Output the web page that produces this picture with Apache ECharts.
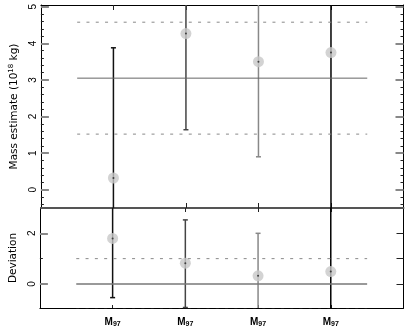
<!DOCTYPE html>
<html><head><meta charset="utf-8">
<script src="https://cdn.jsdelivr.net/npm/echarts@6/dist/echarts.min.js"></script>
<style>html,body{margin:0;padding:0;background:#fff}#c{width:407px;height:330px}</style>
</head><body><div id="c"></div>
<script>
// ---- data ----
const categories = ['M_97', 'M_97', 'M_97', 'M_97'];
const catPos = [1, 2, 3, 4];
const massValues = [0.32, 4.27, 3.50, 3.75];
const massLow = [-3.2, 1.64, 0.90, -1.5];
const massHigh = [3.88, 6.9, 6.1, 9.0];
const devValues = [1.80, 0.82, 0.32, 0.49];
const devLow = [-0.54, -0.93, -1.36, -3.0];
const devHigh = [4.1, 2.53, 2.00, 4.0];
const massMean = 3.05, massSigma = 1.53;
const devMean = 0, devSigma = 1;
const refLineSpan = [0.5, 4.5];
const massTickLabels = [0, 1, 2, 3, 4, 5];
const devTickLabels = [0, 2];
const devMinorTicks = [1];
const barColors = ['#111', '#444', '#888', '#000'];

// ---- layout / styling ----
const FONT = 'Liberation Sans, Arial, Helvetica, sans-serif';
const NAMEFONT = 'DejaVu Sans, Liberation Sans, sans-serif';
const UY = [-0.5, 5.05], LY = [-0.95, 3.0];
const massMinor = [];
for (let v = -0.4; v < 5.04; v += 0.2) {
  const r = Math.round(v * 10) / 10;
  if (Math.abs(r - Math.round(r)) > 1e-6) massMinor.push(r);
}
const G0 = {left: 37, right: 3.5, top: 5, height: 203};
const G1 = {left: 37, right: 3.5, top: 208, height: 100};

function yAxisCfg(grid, pos, ext, ticks, len, col, w, opts) {
  return Object.assign({
    type: 'value', gridIndex: grid, position: pos, min: ext[0], max: ext[1],
    axisLine: {show: false, onZero: false},
    axisTick: {show: true, inside: true, length: len, customValues: ticks, lineStyle: {color: col, width: w}},
    axisLabel: {show: false},
    splitLine: {show: false}
  }, opts || {});
}
function xAxisCfg(grid, pos, line, lineCol, lineW, tickLen, opts) {
  return Object.assign({
    type: 'value', gridIndex: grid, position: pos, min: 0, max: 5,
    axisLine: {show: line, onZero: false, lineStyle: {color: lineCol, width: lineW}},
    axisTick: {show: true, inside: true, length: tickLen, customValues: catPos, lineStyle: {color: '#222', width: 1}},
    axisLabel: {show: false},
    splitLine: {show: false}
  }, opts || {});
}

const xAxes = [
  xAxisCfg(0, 'bottom', true, '#555', 2, 5),
  xAxisCfg(0, 'top', true, '#000', 1, 5),
  xAxisCfg(1, 'bottom', true, '#000', 1, 3, {
    axisLabel: {
      show: true, customValues: catPos, margin: 8, color: '#000', fontFamily: FONT, fontSize: 10, fontWeight: 'bold',
      formatter: function (v) {
        const i = catPos.indexOf(v);
        if (i < 0) return '';
        const p = categories[i].split('_');
        return p[0] + '{sub|' + p[1] + '}';
      },
      rich: {sub: {fontSize: 7, fontWeight: 'bold', fontFamily: FONT, padding: [5, 0, 0, 0]}}
    }
  }),
  xAxisCfg(1, 'top', false, '#555', 1, 4)
];

const labelStyle = {show: true, rotate: 90, margin: 3, color: '#000', fontFamily: FONT, fontSize: 10};
const axLine = {show: true, onZero: false, lineStyle: {color: '#000', width: 1}};
const yAxes = [
  yAxisCfg(0, 'left', UY, massTickLabels, 8, '#888', 2, {
    axisLine: axLine,
    axisLabel: Object.assign({customValues: massTickLabels}, labelStyle),
    name: 'Mass estimate (10{sup|18} kg)', nameLocation: 'middle', nameGap: 18, nameRotate: 90,
    nameTextStyle: {fontFamily: NAMEFONT, fontSize: 10.5, color: '#000',
      rich: {sup: {fontSize: 7, fontFamily: NAMEFONT, color: '#000', padding: [0, 0, 6, 0]}}}
  }),
  yAxisCfg(0, 'left', UY, massMinor, 3, '#222', 1),
  yAxisCfg(0, 'right', UY, massTickLabels, 8, '#888', 2, {axisLine: axLine}),
  yAxisCfg(0, 'right', UY, massMinor, 3, '#222', 1),
  yAxisCfg(1, 'left', LY, devTickLabels, 8, '#888', 2, {
    axisLine: axLine,
    axisLabel: Object.assign({customValues: devTickLabels}, labelStyle),
    name: 'Deviation', nameLocation: 'middle', nameGap: 18, nameRotate: 90,
    nameTextStyle: {fontFamily: NAMEFONT, fontSize: 10.5, color: '#000'}
  }),
  yAxisCfg(1, 'left', LY, devMinorTicks, 3, '#222', 1),
  yAxisCfg(1, 'right', LY, devTickLabels.concat(devMinorTicks), 7, '#222', 1, {axisLine: axLine})
];

function errRender(ext) {
  return function (params, api) {
    const x = api.value(0), lo = api.value(1), hi = api.value(2);
    const col = barColors[params.dataIndex];
    const loC = Math.max(lo, ext[0]), hiC = Math.min(hi, ext[1]);
    const p1 = api.coord([x, loC]), p2 = api.coord([x, hiC]);
    const st = {stroke: col, lineWidth: 1.5};
    const ch = [{type: 'line', shape: {x1: p1[0], y1: p1[1], x2: p2[0], y2: p2[1]}, style: st}];
    const cw = 2.5;
    if (lo >= ext[0]) ch.push({type: 'line', shape: {x1: p1[0] - cw, y1: p1[1], x2: p1[0] + cw, y2: p1[1]}, style: st});
    if (hi <= ext[1]) ch.push({type: 'line', shape: {x1: p2[0] - cw, y1: p2[1], x2: p2[0] + cw, y2: p2[1]}, style: st});
    return {type: 'group', children: ch};
  };
}

function panelSeries(xi, yi, ext, vals, lows, highs, mean, sigma, meanCol, meanW) {
  const hl = (y, col, w, type) => ({
    type: 'line', xAxisIndex: xi, yAxisIndex: yi, silent: true, symbol: 'none',
    data: refLineSpan.map(x => [x, y]), lineStyle: {color: col, width: w, type: type}
  });
  return [
    hl(mean, meanCol, meanW, 'solid'),
    hl(mean + sigma, '#888', 1, [3, 6.3]),
    hl(mean - sigma, '#888', 1, [3, 6.3]),
    {type: 'custom', xAxisIndex: xi, yAxisIndex: yi, silent: true, renderItem: errRender(ext),
      data: catPos.map((x, i) => [x, lows[i], highs[i]])},
    {type: 'scatter', xAxisIndex: xi, yAxisIndex: yi, silent: true, symbolSize: 11,
      itemStyle: {color: '#c8c8c8'}, data: catPos.map((x, i) => [x, vals[i]])},
    {type: 'scatter', xAxisIndex: xi, yAxisIndex: yi, silent: true, symbolSize: 2,
      itemStyle: {color: '#222'}, data: catPos.map((x, i) => [x, vals[i]])}
  ];
}

const chart = echarts.init(document.getElementById('c'), null, {renderer: 'canvas'});
chart.setOption({
  animation: false,
  backgroundColor: '#fff',
  grid: [G0, G1],
  xAxis: xAxes,
  yAxis: yAxes,
  series: [].concat(
    panelSeries(0, 0, UY, massValues, massLow, massHigh, massMean, massSigma, '#666', 1),
    panelSeries(2, 4, LY, devValues, devLow, devHigh, devMean, devSigma, '#777', 1.5)
  )
});
</script>
</body></html>
